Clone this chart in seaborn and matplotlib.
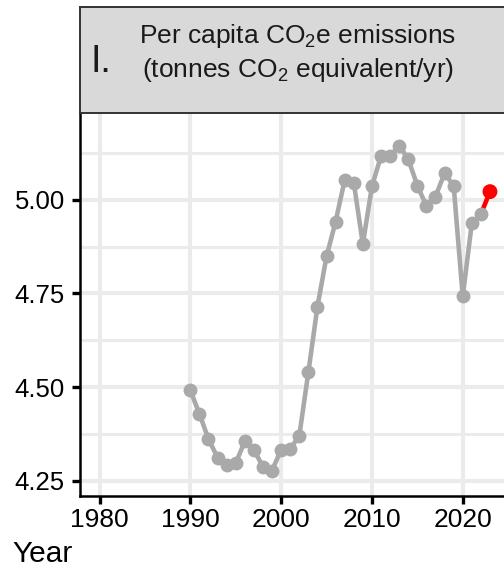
"""
plot.py
Per capita CO2e emissions panel (facet "I."), drawn with seaborn.
"""

import numpy as np
import pandas as pd
import matplotlib
matplotlib.use("Agg")
import matplotlib.pyplot as plt
import seaborn as sns

# data
years = list(range(1990, 2024))
emissions = [4.491, 4.429, 4.361, 4.312, 4.293, 4.297, 4.355, 4.333, 4.287, 4.277,
             4.333, 4.335, 4.370, 4.540, 4.715, 4.849, 4.942, 5.053, 5.046, 4.882,
             5.036, 5.117, 5.117, 5.145, 5.109, 5.038, 4.984, 5.009, 5.071, 5.038,
             4.742, 4.938, 4.962, 5.022]
x_ticks = [1980, 1990, 2000, 2010, 2020]
y_ticks = [4.25, 4.50, 4.75, 5.00]
y_minor = [4.375, 4.625, 4.875, 5.125]
panel_label = "I."
title_lines = [r"Per capita CO$_\mathregular{2}$e emissions",
               r"(tonnes CO$_\mathregular{2}$ equivalent/yr)"]

sns.set_theme(style="white")
plt.rcParams["font.family"] = ["Liberation Sans", "DejaVu Sans"]
plt.rcParams["mathtext.fontset"] = "custom"
plt.rcParams["mathtext.rm"] = "Liberation Sans"
plt.rcParams["mathtext.it"] = "Liberation Sans:italic"

df = pd.DataFrame({"year": years, "value": emissions})
hist = df.iloc[:-1]
last = df.iloc[-2:]

W, H = 504, 568
fig = plt.figure(figsize=(W / 100, H / 100), dpi=100)

# main panel (extends a little past the right edge, as in the cropped original)
left_px, right_px, top_px, bottom_px = 80, 509.5, 113, 495.7
ax = fig.add_axes([left_px / W, 1 - bottom_px / H,
                   (right_px - left_px) / W, (bottom_px - top_px) / H])
ax.set_facecolor("white")

for v in y_minor:
    ax.axhline(v, color="#EBEBEB", lw=2.2, zorder=0)
for v in y_ticks:
    ax.axhline(v, color="#EBEBEB", lw=3.0, zorder=0)
for v in x_ticks:
    ax.axvline(v, color="#EBEBEB", lw=3.0, zorder=0)

sns.lineplot(data=last, x="year", y="value", color="red", lw=3.3, ax=ax, zorder=2)
sns.lineplot(data=hist, x="year", y="value", color="#A9A9A9", lw=3.3,
             marker="o", markersize=10, markeredgewidth=0, ax=ax, zorder=3)
sns.scatterplot(data=df.iloc[-1:], x="year", y="value", color="red", s=115,
                edgecolor="none", ax=ax, zorder=4)

ax.set_xlim(1977.85, 2025.15)
ax.set_ylim(4.21, 5.232)
ax.set_xticks(x_ticks)
ax.set_yticks(y_ticks)
ax.set_yticklabels([f"{v:.2f}" for v in y_ticks])
ax.set_xlabel("")
ax.set_ylabel("")
ax.tick_params(axis="both", which="major", length=6, width=2.4, color="black",
               labelcolor="black", direction="out")
ax.tick_params(axis="x", pad=3, labelsize=19)
ax.tick_params(axis="y", pad=5, labelsize=18.5)
ax.tick_params(bottom=True, left=True)
for side in ["top", "right"]:
    ax.spines[side].set_visible(False)
for side in ["left", "bottom"]:
    ax.spines[side].set_visible(True)
    ax.spines[side].set_color("black")
    ax.spines[side].set_linewidth(1.8)

# facet strip
strip_top = 7
sax = fig.add_axes([left_px / W, 1 - top_px / H,
                    (right_px - left_px) / W, (top_px - strip_top) / H])
sax.set_facecolor("#D9D9D9")
sax.set_xticks([])
sax.set_yticks([])
for side in sax.spines.values():
    side.set_color("#333333")
    side.set_linewidth(1.4)

fig.text(91 / W, 1 - 72.5 / H, panel_label, fontsize=27, color="#1A1A1A",
         ha="left", va="baseline")
fig.text(298 / W, 1 - 43 / H, title_lines[0], fontsize=19, color="#1A1A1A",
         ha="center", va="baseline")
fig.text(298 / W, 1 - 77 / H, title_lines[1], fontsize=19, color="#1A1A1A",
         ha="center", va="baseline")

fig.text(12 / W, 1 - 562 / H, "Year", fontsize=21.5, color="black",
         ha="left", va="baseline")

fig.savefig("out.png", dpi=100)
